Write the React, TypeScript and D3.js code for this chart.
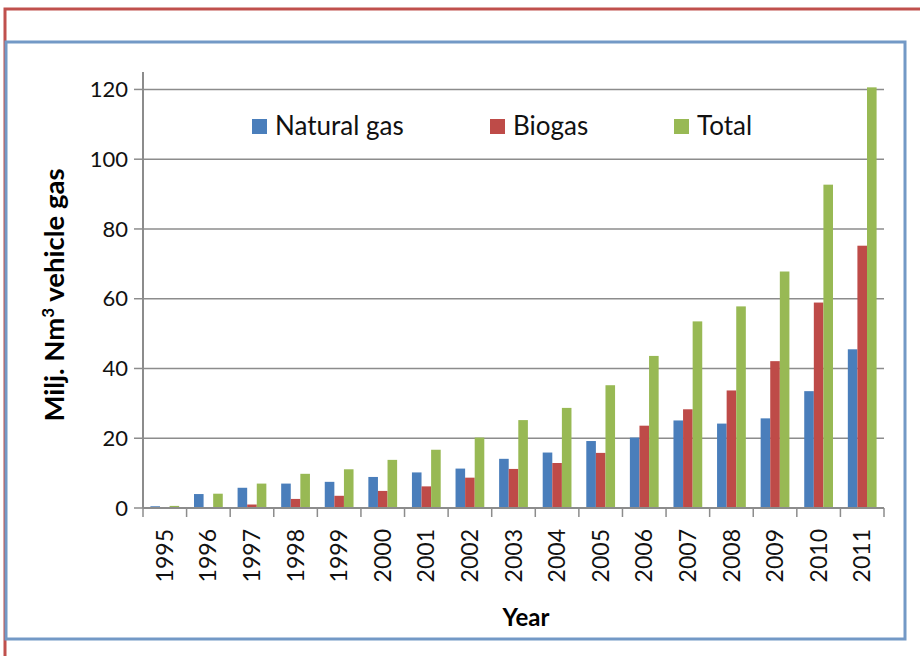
import React from "react";
import { scaleBand, scaleLinear } from "d3";

const years = [
  "1995", "1996", "1997", "1998", "1999", "2000", "2001", "2002", "2003",
  "2004", "2005", "2006", "2007", "2008", "2009", "2010", "2011",
];
const naturalGas = [0.5, 4.0, 5.8, 7.0, 7.5, 8.9, 10.2, 11.3, 14.1, 15.9, 19.2, 20.2, 25.1, 24.2, 25.7, 33.5, 45.5];
const biogas = [0.1, 0.1, 1.0, 2.6, 3.5, 4.9, 6.2, 8.7, 11.2, 12.9, 15.8, 23.6, 28.3, 33.7, 42.1, 58.9, 75.2];
const total = [0.6, 4.1, 7.0, 9.8, 11.1, 13.8, 16.7, 20.2, 25.2, 28.7, 35.2, 43.6, 53.5, 57.8, 67.8, 92.7, 120.6];
const yTicks = [0, 20, 40, 60, 80, 100, 120];

const series = [
  { name: "Natural gas", values: naturalGas, color: "#4a7ebb" },
  { name: "Biogas", values: biogas, color: "#be4b48" },
  { name: "Total", values: total, color: "#98b954" },
];

const font = "Lato, 'Open Sans', sans-serif";

export default function App() {
  const left = 143;
  const right = 884;
  const baseY = 508;
  const topY = 72;

  const x = scaleBand().domain(years).range([left, right]);
  const y = scaleLinear().domain([0, 125]).range([baseY, topY]);
  const groupW = x.bandwidth() * 0.66;
  const sub = scaleBand()
    .domain(series.map((s) => s.name))
    .range([0, groupW]);

  const legendPos = [252, 490, 674];

  return (
    <svg
      width={920}
      height={656}
      style={{ position: "absolute", left: 0, top: 0, background: "#fff" }}
    >
      {/* outer borders */}
      <path d="M 5 660 L 5 9 L 925 9" fill="none" stroke="#c0504d" strokeWidth={3} />
      <rect x={6} y={42} width={899} height={597} fill="none" stroke="#7399c6" strokeWidth={3} />

      {/* gridlines */}
      {yTicks.slice(1).map((t) => (
        <line key={t} x1={left} x2={right} y1={y(t)} y2={y(t)} stroke="#8c8c8c" strokeWidth={1.5} />
      ))}

      {/* bars */}
      {series.map((s) =>
        years.map((yr, i) => {
          const bx = x(yr)! + (x.bandwidth() - groupW) / 2 + sub(s.name)!;
          return (
            <rect
              key={s.name + yr}
              x={bx}
              y={y(s.values[i])}
              width={sub.bandwidth()}
              height={baseY - y(s.values[i])}
              fill={s.color}
            />
          );
        })
      )}

      {/* y axis */}
      <line x1={left} x2={left} y1={topY} y2={baseY} stroke="#8c8c8c" strokeWidth={2} />
      {yTicks.map((t) => (
        <g key={t}>
          <line x1={left - 9} x2={left} y1={y(t)} y2={y(t)} stroke="#8c8c8c" strokeWidth={1.5} />
          <text x={128} y={y(t)} dy="0.35em" textAnchor="end" fontFamily={font} fontSize={22} fill="#111">
            {t}
          </text>
        </g>
      ))}

      {/* x axis */}
      <line x1={left} x2={right} y1={baseY} y2={baseY} stroke="#8c8c8c" strokeWidth={2} />
      {years.map((yr) => (
        <line key={"t" + yr} x1={x(yr)!} x2={x(yr)!} y1={baseY} y2={baseY + 9} stroke="#8c8c8c" strokeWidth={1.5} />
      ))}
      <line x1={right} x2={right} y1={baseY} y2={baseY + 9} stroke="#8c8c8c" strokeWidth={1.5} />
      {years.map((yr) => {
        const cx = x(yr)! + x.bandwidth() / 2;
        return (
          <text
            key={"l" + yr}
            transform={`translate(${cx},${529}) rotate(-90)`}
            textAnchor="end"
            dy="0.35em"
            fontFamily={font}
            fontSize={23}
            fill="#111"
          >
            {yr}
          </text>
        );
      })}

      {/* axis titles */}
      <text
        transform="translate(64,295) rotate(-90)"
        textAnchor="middle"
        fontFamily={font}
        fontWeight="bold"
        fontSize={27.5}
        fill="#000"
      >
        Milj. Nm<tspan fontSize={17} dy="-10">3</tspan>
        <tspan dy="10"> vehicle gas</tspan>
      </text>
      <text x={526} y={626} textAnchor="middle" fontFamily={font} fontWeight="bold" fontSize={24} fill="#000">
        Year
      </text>

      {/* legend */}
      {series.map((s, i) => (
        <g key={"lg" + s.name}>
          <rect x={legendPos[i]} y={119} width={15} height={15} fill={s.color} />
          <text x={legendPos[i] + 23} y={134.5} fontFamily={font} fontSize={26} fill="#111">
            {s.name}
          </text>
        </g>
      ))}
    </svg>
  );
}
